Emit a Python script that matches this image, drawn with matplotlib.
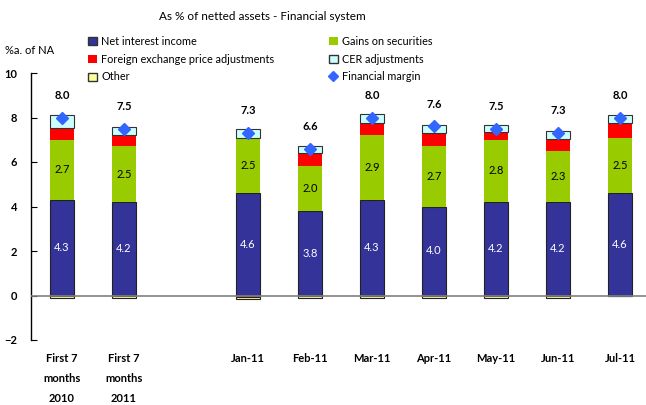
import numpy as np
import matplotlib
matplotlib.use("Agg")
import matplotlib.pyplot as plt
from matplotlib.patches import Patch
from matplotlib.lines import Line2D

plt.rcParams['font.family'] = ['Lato', 'DejaVu Sans']

categorias = ["First 7\nmonths\n2010", "First 7\nmonths\n2011", "",
              "Jan-11", "Feb-11", "Mar-11", "Apr-11", "May-11", "Jun-11", "Jul-11"]
posicoes = [0, 1, 3, 4, 5, 6, 7, 8, 9]

juros = [4.3, 4.2, 4.6, 3.8, 4.3, 4.0, 4.2, 4.2, 4.6]
titulos = [2.7, 2.5, 2.5, 2.0, 2.9, 2.7, 2.8, 2.3, 2.5]
cambio = [0.55, 0.5, -0.05, 0.6, 0.55, 0.6, 0.35, 0.55, 0.65]
cer = [0.54, 0.36, 0.4, 0.3, 0.4, 0.35, 0.33, 0.35, 0.35]
outros = [-0.1, -0.1, -0.1, -0.1, -0.1, -0.1, -0.1, -0.1, -0.03]
margem = [8.0, 7.5, 7.3, 6.6, 8.0, 7.6, 7.5, 7.3, 8.0]

cores = {'juros': '#333399', 'titulos': '#99CC00', 'cambio': '#FF0000',
         'cer': '#CCFFFF', 'outros': '#FFFF99', 'margem': '#3366FF'}

fig = plt.figure(figsize=(6.46, 4.05), dpi=100)
ax = fig.add_axes([31 / 646, 1 - 340 / 405, 620 / 646, 267 / 405])

largura = 0.4
base_pos = np.zeros(len(posicoes))
base_neg = np.zeros(len(posicoes))
series = [(juros, cores['juros'], '#222222'), (titulos, cores['titulos'], 'none'),
          (cambio, cores['cambio'], 'none'), (cer, cores['cer'], '#333333'),
          (outros, cores['outros'], '#222222')]
for valores, cor, borda in series:
    v = np.array(valores)
    base = np.where(v >= 0, base_pos, base_neg)
    ax.bar(posicoes, v, largura, bottom=base, color=cor, edgecolor=borda,
           linewidth=0.8, zorder=2)
    base_pos = np.where(v >= 0, base_pos + v, base_pos)
    base_neg = np.where(v < 0, base_neg + v, base_neg)

ax.plot(posicoes, margem, linestyle='none', marker='D', color=cores['margem'],
        markersize=6, zorder=4)

for i, x in enumerate(posicoes):
    ax.text(x, juros[i] / 2, f"{juros[i]:.1f}", ha='center', va='center',
            color='white', fontsize=8, zorder=5)
    ax.text(x, juros[i] + titulos[i] / 2, f"{titulos[i]:.1f}", ha='center',
            va='center', color='black', fontsize=8, zorder=5)
    ax.text(x, margem[i] + 1.0, f"{margem[i]:.1f}", ha='center', va='center',
            color='black', fontsize=8, fontweight='bold', zorder=5)

ax.axhline(0, color='#808080', linewidth=1.2, zorder=3)
ax.set_xlim(-0.5, 9.5)
ax.set_ylim(-2, 10)
ax.set_yticks([-2, 0, 2, 4, 6, 8, 10])
ax.set_xticks(range(len(categorias)))
ax.set_xticklabels(categorias, fontweight='bold', fontsize=8, linespacing=2.05)
ax.tick_params(axis='x', length=0, pad=9)
ax.tick_params(axis='y', direction='in', length=4, labelsize=8, pad=10)
for lab in ax.get_yticklabels():
    lab.set_fontweight('bold')
for lado in ['top', 'right', 'bottom']:
    ax.spines[lado].set_visible(False)
ax.spines['left'].set_linewidth(1.0)

fig.text(262 / 646, 1 - 17 / 405, "As % of netted assets - Financial system",
         ha='center', va='center', fontsize=8.5)
fig.text(5 / 646, 1 - 50 / 405, "%a. of NA", ha='left', va='center', fontsize=8)

h1 = [Patch(facecolor=cores['juros'], edgecolor='#333333', label='Net interest income'),
      Patch(facecolor=cores['cambio'], edgecolor='none', label='Foreign exchange price adjustments'),
      Patch(facecolor=cores['outros'], edgecolor='#333333', label='Other')]
h2 = [Patch(facecolor=cores['titulos'], edgecolor='none', label='Gains on securities'),
      Patch(facecolor=cores['cer'], edgecolor='#333333', label='CER adjustments'),
      Line2D([], [], linestyle='none', marker='D', color=cores['margem'],
             markersize=5, label='Financial margin')]
kw = dict(frameon=False, fontsize=7.8, handlelength=0.8, handleheight=0.8,
          handletextpad=0.4, labelspacing=0.62, borderpad=0, borderaxespad=0)
fig.legend(handles=h1, loc='upper left', bbox_to_anchor=(88 / 646, 1 - 36 / 405), **kw)
fig.legend(handles=h2, loc='upper left', bbox_to_anchor=(329 / 646, 1 - 36 / 405), **kw)

plt.savefig("out.png", dpi=100)
